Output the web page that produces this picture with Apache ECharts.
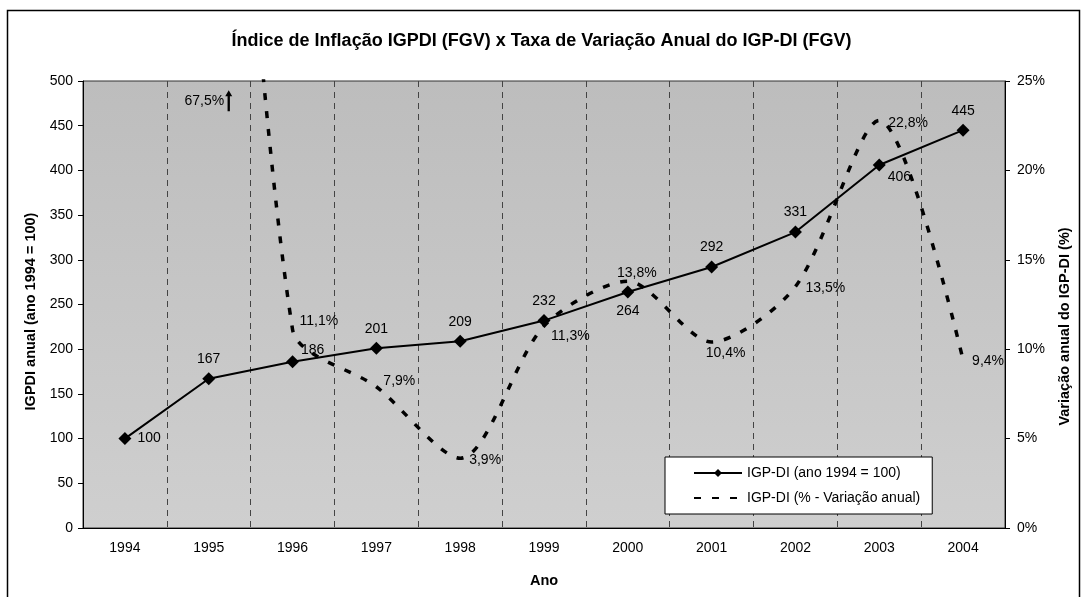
<!DOCTYPE html>
<html>
<head>
<meta charset="utf-8">
<script src="https://cdn.jsdelivr.net/npm/echarts@6/dist/echarts.min.js"></script>
<style>
    html, body {margin: 0; padding: 0; background: #fff;}
    #chart {width: 1083px; height: 597px;}
</style>
</head>
<body>
<div id="chart"></div>
<script>
    // dados
    const anos = ['1994', '1995', '1996', '1997', '1998', '1999', '2000', '2001', '2002', '2003', '2004'];
    const indiceIGPDI = [100, 167, 186, 201, 209, 232, 264, 292, 331, 406, 445];
    const variacaoAnual = [null, 67.5, 11.1, 7.9, 3.9, 11.3, 13.8, 10.4, 13.5, 22.8, 9.4];
    const ticksEsq = [0, 500, 50];   // min, max, intervalo
    const ticksDir = [0, 25, 5];

    // posição dos rótulos (estilo)
    const posIndice = ['right', 'top', ['right', 'top'], 'top', 'top', 'top', 'bottom', 'top', 'top', ['right', 'bottom'], 'top'];
    const posVariacao = [null, null, ['right', [0, -8]], ['right', [0, -6]], ['right', [2, 2]], ['right', [0, 10]], ['top', [9, 6]], ['bottom', [14, -3]], ['right', [3, 2]], ['right', [2, 3]], ['right', [2, 1]]];

    const fonte = '"Liberation Sans", Arial, sans-serif';
    const fmtPct = v => String(v).replace('.', ',') + '%';

    let dadosIndice = indiceIGPDI.map((v, i) => {
        let p = posIndice[i], item = {value: v, label: {}};
        if (Array.isArray(p)) {
            item.label.position = 'right';
            item.label.offset = p[1] === 'top' ? [-4, -12] : [-4, 12];
        } else {
            item.label.position = p;
        }
        return item;
    });
    let dadosVariacao = variacaoAnual.map((v, i) => {
        let p = posVariacao[i];
        if (v === null) return '-';
        if (p === null) return {value: v, label: {show: false}};
        if (Array.isArray(p)) return {value: v, label: {position: p[0], offset: p[1]}};
        return {value: v, label: {position: p}};
    });

    let chart = echarts.init(document.getElementById('chart'));
    chart.setOption({
        animation: false,
        textStyle: {fontFamily: fonte},
        title: {
            text: 'Índice de Inflação IGPDI (FGV) x Taxa de Variação Anual do IGP-DI (FGV)',
            left: 'center',
            top: 27,
            textStyle: {fontFamily: fonte, fontSize: 18, fontWeight: 'bold', color: '#000'}
        },
        graphic: [{
            type: 'rect',
            shape: {x: 7.5, y: 10.5, width: 1072, height: 600},
            style: {fill: 'none', stroke: '#000', lineWidth: 1.5},
            silent: true
        }],
        grid: {
            left: 83, right: 78, top: 81, bottom: 69,
            show: true,
            borderColor: '#333',
            borderWidth: 1,
            backgroundColor: {
                type: 'linear', x: 0, y: 0, x2: 0, y2: 1,
                colorStops: [{offset: 0, color: '#bdbdbd'}, {offset: 1, color: '#cfcfcf'}]
            }
        },
        legend: {
            orient: 'vertical',
            left: 665, top: 457,
            width: 267, height: 60,
            backgroundColor: '#fff',
            borderColor: '#000',
            borderWidth: 1,
            borderRadius: 0,
            padding: [9, 12, 9, 28],
            itemGap: 11,
            itemWidth: 48,
            itemHeight: 10,
            textStyle: {fontFamily: fonte, fontSize: 14, color: '#000'},
            data: ['IGP-DI (ano 1994 = 100)', 'IGP-DI (% - Variação anual)']
        },
        xAxis: {
            type: 'category',
            data: anos,
            name: 'Ano',
            nameLocation: 'middle',
            nameGap: 45,
            nameTextStyle: {fontFamily: fonte, fontSize: 14.5, fontWeight: 'bold', color: '#000'},
            axisLine: {lineStyle: {color: '#000', width: 1}},
            axisTick: {length: 5, lineStyle: {color: '#000'}},
            axisLabel: {fontSize: 14, color: '#000', margin: 13},
            splitLine: {show: true, lineStyle: {type: [6, 5], color: '#444', width: 1}}
        },
        yAxis: [{
            type: 'value',
            min: ticksEsq[0], max: ticksEsq[1], interval: ticksEsq[2],
            name: 'IGPDI anual (ano 1994 = 100)',
            nameLocation: 'middle',
            nameGap: 44,
            nameTextStyle: {fontFamily: fonte, fontSize: 14.5, fontWeight: 'bold', color: '#000', padding: [0, 14, 0, 0]},
            axisLine: {show: true, lineStyle: {color: '#000'}},
            axisTick: {show: true, length: 5, lineStyle: {color: '#000'}},
            axisLabel: {fontSize: 14, color: '#000', margin: 10},
            splitLine: {show: false}
        }, {
            type: 'value',
            min: ticksDir[0], max: ticksDir[1], interval: ticksDir[2],
            name: 'Variação anual do IGP-DI (%)',
            nameLocation: 'middle',
            nameGap: 52,
            nameRotate: 90,
            nameTextStyle: {fontFamily: fonte, fontSize: 14.5, fontWeight: 'bold', color: '#000', padding: [0, 44, 0, 0]},
            axisLine: {show: true, lineStyle: {color: '#000'}},
            axisTick: {show: true, length: 5, lineStyle: {color: '#000'}},
            axisLabel: {fontSize: 14, color: '#000', margin: 12, formatter: '{value}%'},
            splitLine: {show: false}
        }],
        series: [{
            name: 'IGP-DI (ano 1994 = 100)',
            type: 'line',
            yAxisIndex: 0,
            data: dadosIndice,
            symbol: 'diamond',
            symbolSize: 13,
            itemStyle: {color: '#000'},
            lineStyle: {color: '#000', width: 2},
            label: {show: true, fontSize: 14, color: '#000', distance: 6},
            z: 3
        }, {
            name: 'IGP-DI (% - Variação anual)',
            type: 'line',
            yAxisIndex: 1,
            data: dadosVariacao,
            smooth: 0.28,
            symbol: 'circle',
            symbolSize: 2,
            showAllSymbol: true,
            itemStyle: {color: 'rgba(0,0,0,0)', borderWidth: 0},
            lineStyle: {color: '#000', width: 3.5, type: [7, 11]},
            label: {show: true, fontSize: 14, color: '#000', distance: 6, formatter: p => fmtPct(p.value)},
            markPoint: {
                silent: true,
                symbol: 'path://M3,0 L6,6 L4,6 L4,21 L2,21 L2,6 L0,6 Z',
                symbolSize: [7, 21],
                symbolOffset: [20, 0],
                itemStyle: {color: '#000'},
                label: {
                    show: true, position: 'left', distance: 1,
                    fontSize: 14, color: '#000',
                    formatter: () => fmtPct(variacaoAnual[1])
                },
                data: [{coord: [anos[1], 23.9]}]
            },
            z: 2
        }]
    });
</script>
</body>
</html>
